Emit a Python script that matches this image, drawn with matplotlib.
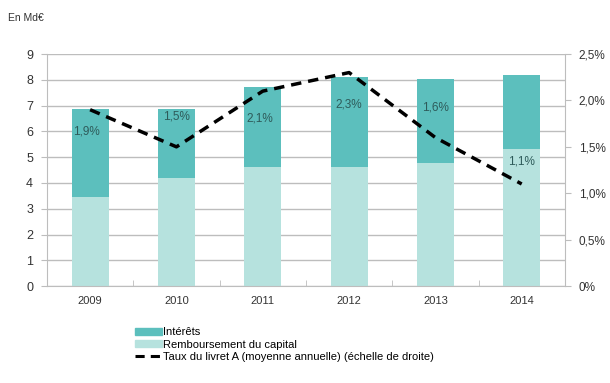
import numpy as np
import matplotlib
matplotlib.use("Agg")
import matplotlib.pyplot as plt
from matplotlib.patches import Patch
from matplotlib.lines import Line2D

plt.rcParams['font.family'] = ['Liberation Sans', 'DejaVu Sans']

# Data (Md€ and % per year)
years = ["2009", "2010", "2011", "2012", "2013", "2014"]
capital = [3.45, 4.19, 4.62, 4.62, 4.77, 5.30]
interets = [3.41, 2.67, 3.10, 3.47, 3.28, 2.88]
taux = [1.9, 1.5, 2.1, 2.3, 1.6, 1.1]
taux_labels = ["1,9%", "1,5%", "2,1%", "2,3%", "1,6%", "1,1%"]
# label offsets in points (dx, dy) relative to each line point
label_offsets = [(-3, -16), (0, 22), (-2, -20), (0, -23), (0, 22), (0, 16)]

c_int = "#5cbfbd"
c_cap = "#b6e2de"
c_grid = "#bdbdbd"
c_txt = "#333333"

fig = plt.figure(figsize=(6.10, 3.83), dpi=100)
ax = fig.add_axes([0.077, 0.253, 0.849, 0.606])
x = np.arange(len(years))
w = 0.43

ax.bar(x, capital, w, color=c_cap, zorder=2)
ax.bar(x, interets, w, bottom=capital, color=c_int, zorder=2)

ax.set_xlim(-0.5, len(years) - 0.5)
ax.set_ylim(0, 9)
ax.set_yticks(range(0, 10))
ax.yaxis.grid(True, color=c_grid, linewidth=1.0, zorder=0)
ax.set_axisbelow(True)
ax.set_xticks(x)
ax.set_xticklabels(years)
ax.set_xticks(np.arange(-0.5, len(years)), minor=True)
ax.tick_params(axis='x', which='major', length=0, pad=7, labelsize=8, colors=c_txt)
ax.tick_params(axis='x', which='minor', length=4, color=c_grid, direction='in')
ax.tick_params(axis='y', length=4, color=c_grid, labelsize=9, colors=c_txt, pad=6)
for s in ['top', 'right']:
    ax.spines[s].set_visible(False)
for s in ['left', 'bottom']:
    ax.spines[s].set_color(c_grid)

ax2 = ax.twinx()
ax2.set_ylim(0, 2.5)
ax2.set_yticks([0, 0.5, 1.0, 1.5, 2.0, 2.5])
ax2.set_yticklabels(["0%", "0,5%", "1,0%", "1,5%", "2,0%", "2,5%"])
ax2.tick_params(axis='y', length=4, color=c_grid, labelsize=8.5, colors=c_txt, pad=6)
for s in ['top', 'left', 'bottom']:
    ax2.spines[s].set_visible(False)
ax2.spines['right'].set_color(c_grid)

ax2.plot(x, taux, color="black", linewidth=2.5, linestyle=(0, (3, 2)), zorder=3)
for xi, t, lab, off in zip(x, taux, taux_labels, label_offsets):
    ax2.annotate(lab, (xi, t), xytext=off, textcoords='offset points',
                 ha='center', va='center', fontsize=8.5, color="#2e5b5a")

fig.text(0.013, 0.953, "En Md€", fontsize=7.5, color=c_txt, va='center')

handles = [Patch(color=c_int), Patch(color=c_cap),
           Line2D([], [], color="black", linewidth=2.2, linestyle=(0, (3, 2)))]
labels = ["Intérêts", "Remboursement du capital",
          "Taux du livret A (moyenne annuelle) (échelle de droite)"]
fig.legend(handles, labels, loc='upper left', bbox_to_anchor=(0.222, 0.145),
           frameon=False, fontsize=8, handlelength=2.4, handleheight=0.6,
           handletextpad=0.1, labelspacing=0.2, borderpad=0, borderaxespad=0)

fig.savefig("out.png", dpi=100)
